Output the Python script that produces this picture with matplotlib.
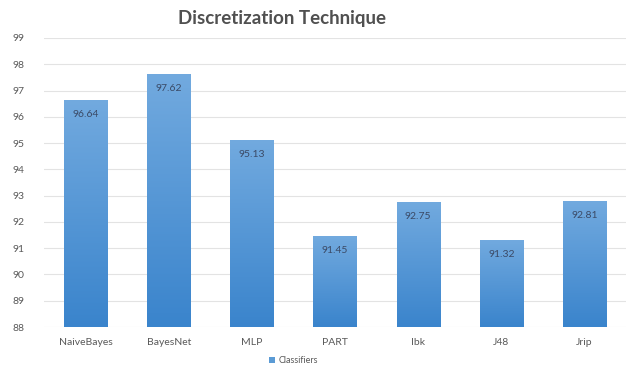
import matplotlib
matplotlib.use("Agg")
import matplotlib.pyplot as plt
import numpy as np
from matplotlib.colors import LinearSegmentedColormap

plt.rcParams['font.family'] = ['Lato', 'DejaVu Sans']

categories = ["NaiveBayes", "BayesNet", "MLP", "PART", "Ibk", "J48", "Jrip"]
values = [96.64, 97.62, 95.13, 91.45, 92.75, 91.32, 92.81]
yticks = list(range(88, 100))

fig = plt.figure(figsize=(6.31, 3.65), dpi=100)
ax = fig.add_axes([0.070, 0.104, 0.922, 0.792])

x = np.arange(len(categories))
bars = ax.bar(x, [v - 88 for v in values], bottom=88, width=0.52, color='#5b9bd5', zorder=2)

cmap = LinearSegmentedColormap.from_list('g', ['#3a84cc', '#72aadf'])
grad = np.linspace(0, 1, 256).reshape(-1, 1)
for b in bars:
    bx, by = b.get_x(), b.get_y()
    w, h = b.get_width(), b.get_height()
    im = ax.imshow(grad, extent=[bx, bx + w, by, by + h], origin='lower', cmap=cmap,
                   aspect='auto', zorder=3)
    im.set_clip_path(b)

for xi, v in zip(x, values):
    ax.text(xi, v - 0.38, f"{v:.2f}", ha='center', va='top', fontsize=7.5, color='#3b4a66', zorder=4)

ax.set_xlim(-0.5, len(categories) - 0.5)
ax.set_ylim(88, 99)
ax.set_yticks(yticks)
ax.set_yticklabels([str(t) for t in yticks], fontsize=7.5, color='#595959')
ax.set_xticks(x)
ax.set_xticklabels(categories, fontsize=7.5, color='#595959')
ax.tick_params(axis='both', length=0)
ax.tick_params(axis='y', pad=14)
ax.tick_params(axis='x', pad=8)
ax.grid(axis='y', color='#e3e3e3', linewidth=0.8, zorder=0)
ax.set_axisbelow(True)
for s in ax.spines.values():
    s.set_visible(False)

fig.text(0.447, 0.948, "Discretization Technique", ha='center', va='center', fontsize=13.5,
         fontweight='bold', color='#505050')

from matplotlib.patches import Patch
fig.legend(handles=[Patch(facecolor='#5b9bd5', label='Classifiers')], loc='center',
           bbox_to_anchor=(0.465, 0.012), frameon=False, fontsize=6.5, labelcolor='#595959',
           handlelength=0.7, handleheight=0.7, handletextpad=0.4)

fig.savefig("out.png", dpi=100)
